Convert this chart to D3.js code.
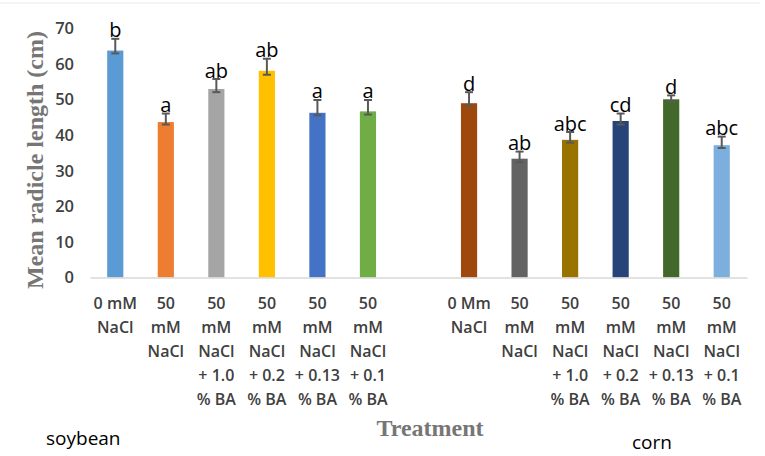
<!DOCTYPE html>
<html lang="en">
<head>
  <meta charset="utf-8">
  <title>Mean radicle length</title>
  <script src="https://d3js.org/d3.v7.min.js"></script>
  <style>
    body { margin: 0; background: #fff; }
    svg { display: block; }
  </style>
</head>
<body>
  <div id="chart"></div>
  <script>
    // categories (one empty slot between the two crops)
    const keys = ["s1", "s2", "s3", "s4", "s5", "s6", "gap", "c1", "c2", "c3", "c4", "c5", "c6"];
    const tickLabels = [
      ["0 mM", "NaCl"],
      ["50", "mM", "NaCl"],
      ["50", "mM", "NaCl", "+ 1.0", "% BA"],
      ["50", "mM", "NaCl", "+ 0.2", "% BA"],
      ["50", "mM", "NaCl", "+ 0.13", "% BA"],
      ["50", "mM", "NaCl", "+ 0.1", "% BA"],
      [],
      ["0 Mm", "NaCl"],
      ["50", "mM", "NaCl"],
      ["50", "mM", "NaCl", "+ 1.0", "% BA"],
      ["50", "mM", "NaCl", "+ 0.2", "% BA"],
      ["50", "mM", "NaCl", "+ 0.13", "% BA"],
      ["50", "mM", "NaCl", "+ 0.1", "% BA"]
    ];
    const values   = [63.8, 43.7, 53.0, 58.1, 46.3, 46.7, null, 49.0, 33.4, 38.7, 44.0, 50.1, 37.2];
    const errPlus  = [3.3, 2.4, 2.8, 3.4, 3.6, 3.2, null, 3.1, 2.0, 2.2, 2.1, 1.1, 2.4];
    const errMinus = [0.8, 0.7, 0.9, 1.1, 0.7, 0.9, null, 0.7, 1.0, 0.8, 1.0, 0.8, 0.8];
    const letters  = ["b", "a", "ab", "ab", "a", "a", "", "d", "ab", "abc", "cd", "d", "abc"];
    const yTicks = [0, 10, 20, 30, 40, 50, 60, 70];

    const palette = ["#5b9bd5", "#ed7d31", "#a5a5a5", "#ffc000", "#4472c4", "#70ad47", "#fff",
                     "#9e480e", "#636363", "#997300", "#264478", "#43682b", "#7cafdd"];

    const width = 765, height = 456;

    const svg = d3.select("#chart").append("svg")
      .attr("width", width)
      .attr("height", height);

    // faint frame line at the top
    svg.append("line")
      .attr("x1", 0).attr("x2", 760)
      .attr("y1", 3).attr("y2", 3)
      .attr("stroke", "#e8e8e8");

    const x = d3.scaleBand()
      .domain(keys)
      .range([90, 747])
      .paddingInner(0.68)
      .paddingOuter(0.34);

    const y = d3.scaleLinear()
      .domain([0, 70])
      .range([277.5, 28.5]);

    const rows = keys.map((k, i) => ({
      key: k, value: values[i], up: errPlus[i], down: errMinus[i],
      letter: letters[i], color: palette[i], lines: tickLabels[i]
    }));
    const bars = rows.filter(d => d.value != null);

    // y axis labels
    const yAxis = svg.append("g")
      .attr("transform", "translate(74,0)")
      .call(d3.axisLeft(y).tickValues(yTicks).tickSize(0).tickPadding(0));
    yAxis.select(".domain").remove();
    yAxis.selectAll("text")
      .attr("font-family", "'Open Sans', sans-serif")
      .attr("font-size", 16.5)
      .attr("font-weight", 600)
      .attr("fill", "#404040");

    // bars
    svg.selectAll("rect.bar")
      .data(bars)
      .join("rect")
      .attr("class", "bar")
      .attr("x", d => x(d.key))
      .attr("width", x.bandwidth())
      .attr("y", d => y(d.value))
      .attr("height", d => y(0) - y(d.value))
      .attr("fill", d => d.color);

    // x axis line
    const xAxis = svg.append("g")
      .attr("transform", `translate(0,${y(0)})`)
      .call(d3.axisBottom(x).tickSize(0).tickFormat(""));
    xAxis.select(".domain")
      .attr("stroke", "#d9d9d9")
      .attr("stroke-width", 1.5);

    // multi-line tick labels
    xAxis.selectAll(".tick text").remove();
    xAxis.selectAll(".tick")
      .append("text")
      .attr("text-anchor", "middle")
      .attr("font-family", "'Open Sans', sans-serif")
      .attr("font-size", 16)
      .attr("font-weight", 600)
      .attr("fill", "#404040")
      .each(function (k) {
        const lines = tickLabels[keys.indexOf(k)];
        d3.select(this).selectAll("tspan")
          .data(lines)
          .join("tspan")
          .attr("x", 0)
          .attr("y", (d, i) => 31 + i * 24)
          .text(d => d);
      });

    // error bars
    const err = svg.selectAll("g.err")
      .data(bars)
      .join("g")
      .attr("class", "err")
      .attr("stroke", "#595959")
      .attr("stroke-width", 2)
      .attr("transform", d => `translate(${x(d.key) + x.bandwidth() / 2},0)`);
    err.append("line")
      .attr("y1", d => y(d.value + d.up))
      .attr("y2", d => y(d.value - d.down));
    err.append("line")
      .attr("x1", -4).attr("x2", 4)
      .attr("y1", d => y(d.value + d.up))
      .attr("y2", d => y(d.value + d.up));
    err.append("line")
      .attr("x1", -4).attr("x2", 4)
      .attr("y1", d => y(d.value - d.down))
      .attr("y2", d => y(d.value - d.down));

    // significance letters
    svg.selectAll("text.letter")
      .data(bars)
      .join("text")
      .attr("class", "letter")
      .attr("x", d => x(d.key) + x.bandwidth() / 2)
      .attr("y", d => y(d.value + d.up) - 1.5)
      .attr("text-anchor", "middle")
      .attr("font-family", "'Open Sans', sans-serif")
      .attr("font-size", 20)
      .attr("fill", "#000")
      .text(d => d.letter);

    // axis titles
    svg.append("text")
      .attr("transform", "translate(43,160) rotate(-90)")
      .attr("text-anchor", "middle")
      .attr("font-family", "'Liberation Serif', serif")
      .attr("font-weight", "bold")
      .attr("font-size", 24)
      .attr("fill", "#767676")
      .text("Mean radicle length (cm)");

    svg.append("text")
      .attr("x", 430)
      .attr("y", 436)
      .attr("text-anchor", "middle")
      .attr("font-family", "'Liberation Serif', serif")
      .attr("font-weight", "bold")
      .attr("font-size", 24)
      .attr("fill", "#767676")
      .text("Treatment");

    // crop names
    svg.append("text")
      .attr("x", 46).attr("y", 445)
      .attr("font-family", "'Open Sans', sans-serif")
      .attr("font-size", 19)
      .attr("fill", "#000")
      .text("soybean");

    svg.append("text")
      .attr("x", 632).attr("y", 449)
      .attr("font-family", "'Open Sans', sans-serif")
      .attr("font-size", 19)
      .attr("fill", "#000")
      .text("corn");
  </script>
</body>
</html>
